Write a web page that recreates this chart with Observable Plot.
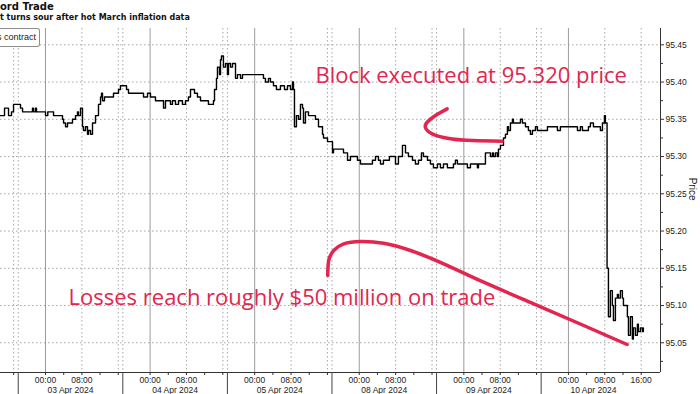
<!DOCTYPE html>
<html><head><meta charset="utf-8">
<script src="https://cdn.jsdelivr.net/npm/d3@7"></script>
<script src="https://cdn.jsdelivr.net/npm/@observablehq/plot@0.6"></script>
<style>
body{margin:0;background:#fff;}
#wrap{position:relative;width:700px;height:394px;overflow:hidden;background:#fff;}
#chart{position:absolute;left:0;top:0;}
.t1{position:absolute;left:0;top:1px;font:bold 10px/12px "DejaVu Sans";color:#111;white-space:nowrap;}
.t2{position:absolute;left:0;top:13px;font:bold 8px/10px "DejaVu Sans";color:#111;white-space:nowrap;}
.leg{position:absolute;left:0;top:28px;width:40px;height:19px;box-sizing:border-box;border:1px solid #8c8c8c;border-left:none;border-radius:0 3px 3px 0;background:#fff;}
.leg span{position:absolute;right:3px;top:3px;font:9px/11px "Liberation Sans";color:#222;white-space:nowrap;}
</style></head><body>
<div id="wrap">
  <div id="chart"></div>
  <div class="t1">ord Trade</div>
  <div class="t2">t turns sour after hot March inflation data</div>
  <div class="leg"><span>s contract</span></div>
</div>
<script>
// ---- data (time in US Central trading sessions, 18:00 open to 17:00 close) ----
const sessionDates = ["04-02","04-03","04-04","04-05","04-08","04-09","04-10"];
const dayLabels = ["02 Apr 2024","03 Apr 2024","04 Apr 2024","05 Apr 2024","08 Apr 2024","09 Apr 2024","10 Apr 2024"];
const tickClocks = ["00:00","04:00","08:00","12:00","16:00"];
const labeledClocks = ["00:00","08:00"];
const lastDayExtraLabel = "16:00";
const yTicks = [95.05,95.10,95.15,95.20,95.25,95.30,95.35,95.40,95.45];
const yMinorTicks = [95.025,95.075,95.125,95.175,95.225,95.275,95.325,95.375,95.425];

const times = [
"04-02 13:06","04-02 13:59","04-02 14:52","04-02 15:31","04-02 15:58",
"04-02 18:30","04-02 18:57","04-02 21:08","04-02 21:22","04-02 21:48","04-02 22:01","04-02 23:34",
"04-03 00:00","04-03 00:30","04-03 01:46","04-03 03:44","04-03 03:58","04-03 04:24","04-03 04:50","04-03 05:56",
"04-03 06:36","04-03 07:02","04-03 07:15","04-03 07:42","04-03 08:08","04-03 08:21","04-03 08:48","04-03 09:14",
"04-03 09:27","04-03 09:54","04-03 10:20","04-03 11:00","04-03 11:39","04-03 12:06","04-03 12:19","04-03 12:32",
"04-03 12:58","04-03 14:57","04-03 16:03","04-03 16:29",
"04-03 18:49","04-03 19:15","04-03 22:33","04-03 23:26","04-04 00:05","04-04 01:11","04-04 02:57","04-04 03:23",
"04-04 04:29","04-04 04:55","04-04 05:35","04-04 06:15","04-04 07:07","04-04 07:47","04-04 08:26","04-04 08:53",
"04-04 09:46","04-04 10:25","04-04 11:05","04-04 12:50","04-04 13:56","04-04 14:10","04-04 14:36","04-04 14:49",
"04-04 15:16","04-04 15:29","04-04 15:42","04-04 16:08","04-04 16:35",
"04-04 18:01","04-04 18:14","04-04 18:41","04-04 19:07","04-04 19:47","04-04 20:13","04-04 20:53","04-04 21:19",
"04-05 01:56","04-05 02:22","04-05 03:02","04-05 03:28","04-05 04:08","04-05 04:47","04-05 05:40","04-05 06:33",
"04-05 07:13","04-05 07:52","04-05 08:19","04-05 08:32","04-05 08:45","04-05 09:11","04-05 09:38","04-05 10:04",
"04-05 10:31","04-05 10:44","04-05 11:10","04-05 11:50","04-05 13:22","04-05 14:02","04-05 14:55","04-05 15:08",
"04-05 16:01",
"04-07 18:07","04-07 18:20","04-07 20:32","04-07 21:25","04-07 22:04","04-07 23:36","04-08 00:16","04-08 02:54",
"04-08 03:34","04-08 04:13","04-08 04:40","04-08 05:19","04-08 06:38","04-08 07:58","04-08 08:37","04-08 09:30",
"04-08 10:10","04-08 10:49","04-08 11:42","04-08 12:21","04-08 13:01","04-08 13:41","04-08 14:07","04-08 15:00",
"04-08 15:39","04-08 16:19",
"04-08 18:12","04-08 18:51","04-08 19:31","04-08 20:23","04-08 21:43","04-08 22:09","04-08 22:35","04-09 00:47",
"04-09 01:27","04-09 02:59","04-09 03:13","04-09 04:45","04-09 05:51","04-09 06:17","04-09 06:31","04-09 06:57",
"04-09 07:23","04-09 07:37","04-09 08:03","04-09 08:43","04-09 09:09","04-09 09:35","04-09 09:49","04-09 10:15",
"04-09 10:41","04-09 10:54","04-09 12:27","04-09 12:53","04-09 13:33","04-09 14:12","04-09 14:38","04-09 15:05",
"04-09 15:45","04-09 16:11","04-09 16:50",
"04-09 19:23","04-09 21:35","04-09 22:14","04-10 01:59","04-10 02:38","04-10 03:05","04-10 04:24","04-10 04:50",
"04-10 05:30","04-10 07:02","04-10 07:29","04-10 07:55","04-10 08:08","04-10 08:30","04-10 08:48","04-10 09:14",
"04-10 09:40","04-10 09:54","04-10 10:20","04-10 10:46","04-10 11:00","04-10 11:26","04-10 11:52","04-10 12:06",
"04-10 12:58","04-10 13:12","04-10 13:38","04-10 14:04","04-10 14:17","04-10 14:44","04-10 15:10","04-10 15:23",
"04-10 15:50","04-10 16:16","04-10 16:29"
];
const prices = [
95.355,95.365,95.355,95.36,95.37,
95.365,95.36,95.365,95.36,95.365,95.36,95.36,
95.355,95.36,95.355,95.35,95.345,95.34,95.345,95.35,
95.355,95.36,95.355,95.365,95.34,95.335,95.34,95.33,
95.335,95.33,95.345,95.355,95.37,95.38,95.385,95.375,
95.38,95.385,95.39,95.395,
95.39,95.385,95.38,95.385,95.38,95.375,95.365,95.375,
95.37,95.375,95.37,95.375,95.37,95.375,95.38,95.39,
95.385,95.38,95.375,95.37,95.375,95.39,95.405,95.42,
95.41,95.43,95.435,95.42,95.425,
95.41,95.425,95.42,95.425,95.405,95.41,95.405,95.41,
95.405,95.40,95.405,95.40,95.395,95.39,95.395,95.39,
95.395,95.39,95.40,95.39,95.34,95.355,95.35,95.37,
95.365,95.345,95.36,95.355,95.35,95.34,95.33,95.325,
95.32,
95.305,95.31,95.305,95.295,95.30,95.295,95.29,95.295,
95.30,95.295,95.29,95.295,95.30,95.29,95.30,95.315,
95.305,95.30,95.295,95.29,95.295,95.305,95.30,95.295,
95.29,95.285,
95.29,95.285,95.29,95.285,95.29,95.295,95.29,95.285,
95.29,95.285,95.29,95.305,95.30,95.305,95.30,95.305,
95.30,95.31,95.315,95.325,95.33,95.34,95.335,95.345,
95.35,95.345,95.35,95.345,95.34,95.335,95.33,95.335,
95.34,95.335,95.335,
95.34,95.335,95.34,95.335,95.34,95.335,95.34,95.345,
95.34,95.335,95.345,95.355,95.345,95.15,95.085,95.12,
95.10,95.08,95.11,95.115,95.11,95.12,95.11,95.10,
95.085,95.06,95.085,95.055,95.07,95.06,95.075,95.065,
95.07,95.065,95.07
];

// annotations (text anchored at its vertical middle)
const annoColor = "#e2264f";
const blockText = "Block executed at 95.320 price";
const blockTextAt = ["04-05 13:22", 95.4088];
const lossText = "Losses reach roughly $50 million on trade";
const lossTextAt = ["04-03 05:04", 95.1108];
const blockArrowTimes = ["04-08 20:20","04-08 16:45","04-08 14:56","04-08 14:33","04-08 16:02","04-08 21:03","04-09 02:07","04-09 08:25"];
const blockArrowPrices = [95.364,95.355,95.346,95.339,95.3305,95.324,95.3215,95.3206];
const lossArrowTimes = ["04-05 16:04","04-05 16:17","04-07 18:23","04-07 20:35","04-08 00:16","04-08 05:23","04-08 11:16","04-08 19:35","04-09 04:22","04-09 15:22","04-10 03:22","04-10 12:54"];
const lossArrowPrices = [95.1403,95.1605,95.1739,95.1829,95.186,95.1837,95.1739,95.156,95.1313,95.1023,95.0732,95.0477];

// ---- compressed trading-time scale ----
const OPEN = 18, SESSION = 23;
function tradingHour(ts){
  const [md, hm] = ts.split(" ");
  const [H, M] = hm.split(":").map(Number);
  const h = H + M/60;
  if (h >= OPEN) {
    let i = sessionDates.findIndex(d => d > md);
    return i*SESSION + (h - OPEN);
  }
  const i = sessionDates.indexOf(md);
  return i*SESSION + h + (24 - OPEN);
}
const xDomain = [tradingHour("04-02 13:06"), tradingHour("04-10 00:00") + 20.25];
const yDomain = [95.0101, 95.4719];

const series = times.map((t,i) => ({u: tradingHour(t), price: prices[i]}));
const blockArrow = blockArrowTimes.map((t,i)=>({u: tradingHour(t), price: blockArrowPrices[i]}));
const lossArrow = lossArrowTimes.map((t,i)=>({u: tradingHour(t), price: lossArrowPrices[i]}));
const annotations = [
  {u: tradingHour(blockTextAt[0]), price: blockTextAt[1], text: blockText},
  {u: tradingHour(lossTextAt[0]), price: lossTextAt[1], text: lossText}
];

const inView = v => v >= xDomain[0] && v <= xDomain[1];
const midnights = [], dotted = [], allTicks = [], labels = new Map(), sessionStarts = [], dayMarks = [];
sessionDates.forEach((d, i) => {
  const start = i*SESSION;
  if (inView(start)) { sessionStarts.push(start); dotted.push(start); }
  const m = tradingHour(d + " 00:00");
  if (inView(m)) midnights.push(m);
  ["08:00","16:00"].forEach(c => { const v = tradingHour(d+" "+c); if (inView(v)) dotted.push(v); });
  tickClocks.forEach(c => {
    const v = tradingHour(d+" "+c);
    if (!inView(v)) return;
    allTicks.push(v);
    if (labeledClocks.includes(c) || (i === sessionDates.length-1 && c === lastDayExtraLabel)) labels.set(v, c);
  });
  const mid = start + SESSION/2;
  if (inView(mid)) dayMarks.push({u: mid, label: dayLabels[i]});
});

const grid = {stroke:"#a6a6a6", strokeDasharray:"1.5,2.5", strokeWidth:1};
const chart = Plot.plot({
  width: 700, height: 394,
  marginTop: 28, marginBottom: 22, marginLeft: 0, marginRight: 40,
  x: {domain: xDomain, axis: null},
  y: {domain: yDomain, axis: null},
  style: {fontFamily: "Liberation Sans", fontSize: "8.5px", color: "#222", background: "#fff"},
  marks: [
    Plot.ruleY(yTicks, grid),
    Plot.ruleX(dotted, grid),
    Plot.ruleX(midnights, {stroke: "#9c9c9c", strokeWidth: 1}),
    Plot.line(series, {x: "u", y: "price", curve: "step-after", stroke: "#000", strokeWidth: 1.4, clip: true}),
    Plot.line(blockArrow, {x: "u", y: "price", curve: "natural", stroke: annoColor, strokeWidth: 3.5, strokeLinecap: "round"}),
    Plot.line(lossArrow, {x: "u", y: "price", curve: "natural", stroke: annoColor, strokeWidth: 3.5, strokeLinecap: "round"}),
    Plot.text(annotations, {x: "u", y: "price", text: "text", fill: annoColor, fontSize: 22, fontFamily: "Open Sans", textAnchor: "start", lineAnchor: "middle"}),
    Plot.ruleY([yDomain[0]], {stroke: "#333"}),
    Plot.ruleX([xDomain[1]], {stroke: "#333"}),
    Plot.axisX({ticks: allTicks, tickSize: 3, tickPadding: 1, tickFormat: v => labels.get(v) ?? "", label: null, stroke: "#333", fill: "#222"}),
    Plot.axisX({ticks: sessionStarts, tickSize: 22, tickFormat: () => "", label: null, stroke: "#444"}),
    Plot.text(dayMarks, {x: "u", frameAnchor: "bottom", dy: 20, lineAnchor: "bottom", text: "label", fill: "#222"}),
    Plot.axisY({anchor: "right", ticks: yTicks, tickSize: 3, tickPadding: 2, tickFormat: d => d.toFixed(2), label: null, stroke: "#333", fill: "#222"}),
    Plot.axisY({anchor: "right", ticks: yMinorTicks.filter(v => v > yDomain[0] && v < yDomain[1]), tickSize: 2, tickFormat: () => "", label: null, stroke: "#333"}),
    Plot.text(["Price"], {frameAnchor: "right", dx: 32, rotate: 90, text: d => d, fontSize: 10, fill: "#222"})
  ]
});
document.getElementById("chart").appendChild(chart);
</script>
</body></html>
